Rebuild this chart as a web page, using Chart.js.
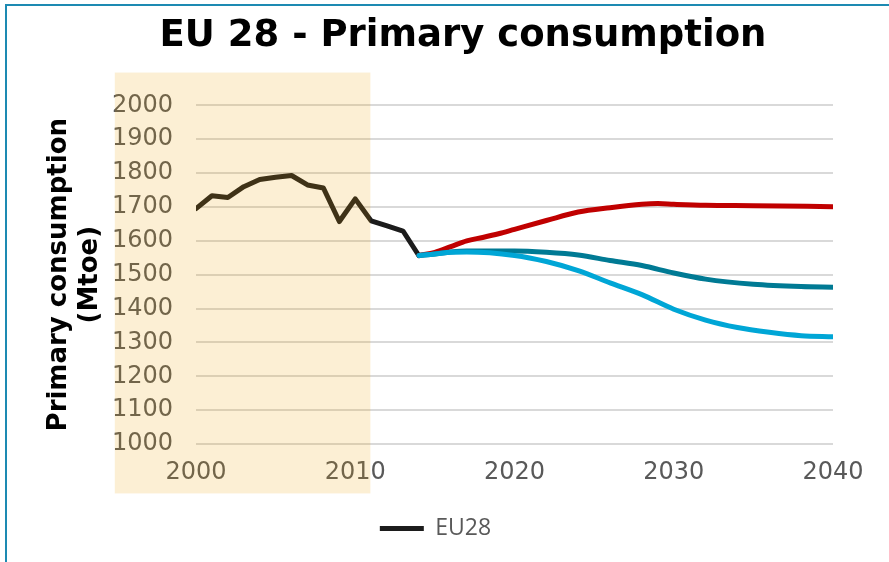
<!DOCTYPE html>
<html>
<head>
<meta charset="utf-8">
<script src="https://cdn.jsdelivr.net/npm/chart.js@4/dist/chart.umd.min.js"></script>
<style>
  html, body { margin: 0; padding: 0; background: #ffffff; }
  #wrap { position: relative; width: 889px; height: 562px; }
  #frame { position: absolute; left: 5px; top: 4px; right: 0; bottom: 0;
           border-left: 2px solid #1d8ab2; border-top: 2px solid #1d8ab2; pointer-events: none; }
</style>
</head>
<body>
<div id="wrap">
  <canvas id="c" width="889" height="562"></canvas>
  <div id="frame"></div>
</div>
<script>
// ---- data ----
const histYears  = [2000, 2001, 2002, 2003, 2004, 2005, 2006, 2007, 2008, 2009, 2010, 2011, 2012, 2013, 2014];
const histValues = [1695, 1733, 1728, 1760, 1781, 1788, 1793, 1765, 1756, 1657, 1724, 1659, 1644, 1629, 1556];

const redYears  = [2014, 2015, 2016, 2017, 2018, 2019, 2020, 2022, 2024, 2026, 2028, 2029, 2030, 2032, 2035, 2040];
const redValues = [1557, 1566, 1583, 1600, 1610, 1621, 1634, 1660, 1685, 1698, 1708, 1710, 1708, 1705, 1704, 1701];

const tealYears  = [2014, 2015, 2016, 2017, 2020, 2022, 2024, 2026, 2028, 2030, 2032, 2035, 2038, 2040];
const tealValues = [1557, 1561, 1567, 1570, 1570, 1566, 1558, 1542, 1527, 1505, 1487, 1472, 1465, 1463];

const blueYears  = [2014, 2015, 2016, 2017, 2020, 2022, 2024, 2026, 2028, 2030, 2032, 2034, 2036, 2038, 2040];
const blueValues = [1557, 1561, 1566, 1567, 1557, 1539, 1512, 1476, 1441, 1398, 1366, 1344, 1330, 1320, 1317];

const xTicks = [2000, 2010, 2020, 2030, 2040];
const yTicks = [1000, 1100, 1200, 1300, 1400, 1500, 1600, 1700, 1800, 1900, 2000];

const titleText = 'EU 28 - Primary consumption';
const yTitle = ['Primary consumption', '(Mtoe)'];
const historicalLabel = 'EU28';
// shaded "historical" band (in data units)
const bandX = [1994.9, 2010.95];
const bandY = [854, 2097];

function pts(xs, ys) { return xs.map((x, i) => ({ x: x, y: ys[i] })); }

const shadePlugin = {
  id: 'shade',
  afterLayout(chart) {
    chart.titleBlock.left = 37;
    chart.titleBlock.right = 889;
    chart.legend.left += 19;
    chart.legend.right += 19;
  },
  afterDraw(chart) {
    const xs = chart.scales.x, ys = chart.scales.y, ctx = chart.ctx;
    const x0 = xs.getPixelForValue(bandX[0]), x1 = xs.getPixelForValue(bandX[1]);
    const y0 = ys.getPixelForValue(bandY[1]), y1 = ys.getPixelForValue(bandY[0]);
    ctx.save();
    ctx.fillStyle = 'rgba(240,160,0,0.17)';
    ctx.fillRect(x0, y0, x1 - x0, y1 - y0);
    ctx.restore();
  }
};

new Chart(document.getElementById('c'), {
  type: 'line',
  data: {
    datasets: [
      { label: 'Scenario (low)', data: pts(blueYears, blueValues), borderColor: '#00a6d6', backgroundColor: '#00a6d6',
        borderWidth: 5, pointRadius: 0, cubicInterpolationMode: 'monotone', borderCapStyle: 'round' },
      { label: 'Scenario (mid)', data: pts(tealYears, tealValues), borderColor: '#007a94', backgroundColor: '#007a94',
        borderWidth: 5, pointRadius: 0, cubicInterpolationMode: 'monotone', borderCapStyle: 'round' },
      { label: 'Scenario (high)', data: pts(redYears, redValues), borderColor: '#c00000', backgroundColor: '#c00000',
        borderWidth: 5, pointRadius: 0, cubicInterpolationMode: 'monotone', borderCapStyle: 'round' },
      { label: historicalLabel, data: pts(histYears, histValues), borderColor: '#1c1c1c', backgroundColor: '#1c1c1c',
        borderWidth: 5, pointRadius: 0, tension: 0, borderCapStyle: 'round', borderJoinStyle: 'round' }
    ]
  },
  options: {
    responsive: false,
    animation: false,
    layout: { padding: { left: 0, right: 56, top: 0, bottom: 12 } },
    plugins: {
      title: {
        display: true, text: titleText, color: '#000000',
        font: { family: 'DejaVu Sans', size: 37, weight: 'bold', lineHeight: 1.2 },
        padding: { top: 14, bottom: 47 }
      },
      legend: {
        display: true, position: 'bottom',
        labels: {
          filter: (item) => item.text === historicalLabel,
          usePointStyle: true, pointStyle: 'line', pointStyleWidth: 44,
          color: '#595959', font: { family: 'Open Sans', size: 23 }, padding: 10
        }
      },
      tooltip: { enabled: false }
    },
    scales: {
      x: {
        type: 'linear', min: 2000, max: 2040,
        afterBuildTicks: (s) => { s.ticks = xTicks.map(v => ({ value: v })); },
        ticks: { color: '#595959', font: { family: 'DejaVu Sans', size: 24 }, padding: 14, maxRotation: 0,
                 callback: (v) => String(v) },
        grid: { display: false, drawTicks: false },
        border: { display: false },
        afterFit: (s) => { s.height = 63; }
      },
      y: {
        type: 'linear', min: 1000, max: 2000,
        afterBuildTicks: (s) => { s.ticks = yTicks.map(v => ({ value: v })); },
        ticks: { color: '#595959', font: { family: 'DejaVu Sans', size: 24 }, padding: 23,
                 callback: (v) => String(v) },
        grid: { color: '#d9d9d9', lineWidth: 2, drawTicks: false },
        border: { display: false },
        title: {
          display: true, text: yTitle, color: '#000000',
          font: { family: 'DejaVu Sans', size: 26, weight: 'bold', lineHeight: 1.18 },
          padding: { top: 44, bottom: 0 }
        },
        afterFit: (s) => { s.width = 196; }
      }
    }
  },
  plugins: [shadePlugin]
});
</script>
</body>
</html>
